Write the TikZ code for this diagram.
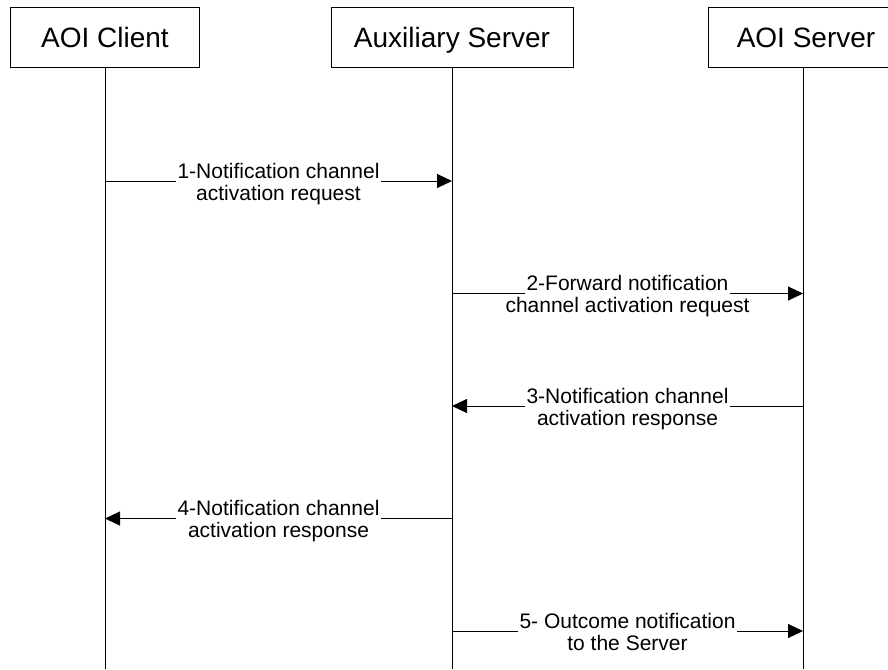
\documentclass[tikz,border=0pt]{standalone}
\usepackage{fontspec}
\setmainfont{Liberation Sans}
\usetikzlibrary{arrows.meta}

\tikzset{every picture/.style={line width=0.75pt}}
\tikzset{
  actor/.style={draw, minimum height=45pt, inner sep=0pt, text height=15pt, text depth=0pt, font=\fontsize{21}{25}\selectfont},
  sig/.style={-{Triangle[length=11.25pt,width=10.5pt]}},
  msgtop/.style={anchor=base, yshift=2.25pt, fill=white, text depth=0pt, inner xsep=1.5pt, inner ysep=4pt, font=\fontsize{15.75}{17}\selectfont},
  msgbot/.style={anchor=base, yshift=-14.25pt, inner sep=0pt, font=\fontsize{15.75}{17}\selectfont}
}

\begin{document}
\begin{tikzpicture}[x=0.75pt,y=0.75pt,yscale=-1,xscale=1]
\useasboundingbox (0,0) rectangle (888,669);
\clip (0,0) rectangle (888,669);

%Shape: Rectangle [actors]
\node[actor, minimum width=141.75pt] (client) at (105,37) {AOI Client};
\node[actor, minimum width=181.5pt] (aux) at (452,37) {Auxiliary Server};
\node[actor, minimum width=147pt] (srv) at (806,37) {AOI Server};

%Straight Lines [lifelines]
\coordinate (clientEnd) at (105,669);
\coordinate (auxEnd) at (452,669);
\coordinate (srvEnd) at (803,669);
\draw (client.south) -- (clientEnd);
\draw (aux.south) -- (auxEnd);
\draw (srvEnd |- srv.south) -- (srvEnd);

%points on the lifelines
\coordinate (cl1) at (105,181);   \coordinate (ax1) at (452,181);
\coordinate (ax2) at (452,293.5); \coordinate (sv2) at (803,293.5);
\coordinate (sv3) at (803,406);   \coordinate (ax3) at (452,406);
\coordinate (ax4) at (452,518.5); \coordinate (cl4) at (105,518.5);
\coordinate (ax5) at (452,631);   \coordinate (sv5) at (803,631);

%Straight Lines [messages]
\draw[sig] (cl1) -- (ax1) node[midway, msgtop] (t1a) {1-Notification channel}
                          node[midway, msgbot] (t1b) {activation request};
\draw[sig] (ax2) -- (sv2) node[midway, msgtop] (t2a) {2-Forward notification}
                          node[midway, msgbot] (t2b) {channel activation request};
\draw[sig] (sv3) -- (ax3) node[midway, msgtop] (t3a) {3-Notification channel}
                          node[midway, msgbot] (t3b) {activation response};
\draw[sig] (ax4) -- (cl4) node[midway, msgtop] (t4a) {4-Notification channel}
                          node[midway, msgbot] (t4b) {activation response};
\draw[sig] (ax5) -- (sv5) node[midway, msgtop] (t5a) {5- Outcome notification}
                          node[midway, msgbot] (t5b) {to the Server};

\end{tikzpicture}
\end{document}
